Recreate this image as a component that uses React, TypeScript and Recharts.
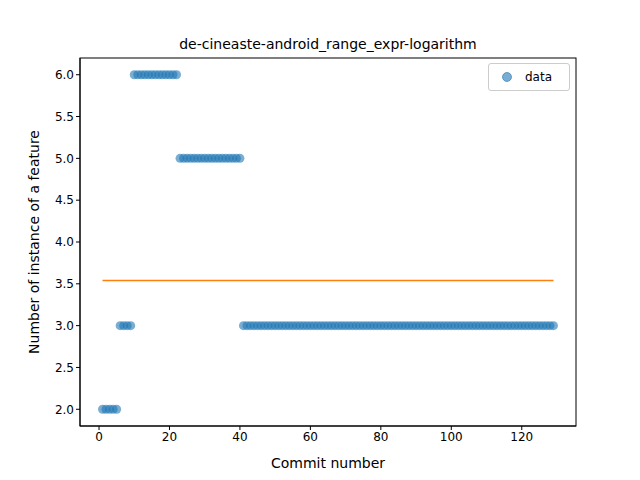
import React from 'react';
import { ComposedChart, Scatter, XAxis, YAxis, ReferenceLine, Legend } from 'recharts';

const values = [
  2, 2, 2, 2, 2,
  3, 3, 3, 3,
  6, 6, 6, 6, 6, 6, 6, 6, 6, 6, 6, 6, 6,
  5, 5, 5, 5, 5, 5, 5, 5, 5, 5, 5, 5, 5, 5, 5, 5, 5, 5,
  3, 3, 3, 3, 3, 3, 3, 3, 3, 3, 3, 3, 3, 3, 3, 3, 3, 3, 3, 3,
  3, 3, 3, 3, 3, 3, 3, 3, 3, 3, 3, 3, 3, 3, 3, 3, 3, 3, 3, 3,
  3, 3, 3, 3, 3, 3, 3, 3, 3, 3, 3, 3, 3, 3, 3, 3, 3, 3, 3, 3,
  3, 3, 3, 3, 3, 3, 3, 3, 3, 3, 3, 3, 3, 3, 3, 3, 3, 3, 3, 3,
  3, 3, 3, 3, 3, 3, 3, 3, 3,
];
const commits = values.map((_, i) => i + 1);
const xTicks = [0, 20, 40, 60, 80, 100, 120];
const yTicks = [2.0, 2.5, 3.0, 3.5, 4.0, 4.5, 5.0, 5.5, 6.0];
const meanValue = 3.54;

const data = commits.map((c, i) => ({ x: c, y: values[i] }));
const font = 'DejaVu Sans, sans-serif';

const LegendBox = () => (
  <div style={{ position: 'absolute', left: 488, top: 63, width: 80, height: 26, border: '1px solid #ccc', borderRadius: 3, background: 'white', fontFamily: font, fontSize: 12, display: 'flex', alignItems: 'center' }}>
    <svg width={30} height={20}><circle cx={18} cy={10} r={4.5} fill="#1f77b4" fillOpacity={0.6} stroke="#1f77b4" strokeOpacity={0.6} /></svg>
    <span style={{ marginLeft: 6 }}>data</span>
  </div>
);

export default function App() {
  return (
    <div style={{ position: 'absolute', left: 0, top: 0, width: 640, height: 480, background: 'white' }}>
      <ComposedChart width={640} height={480} margin={{ left: 20, right: 64, top: 58, bottom: 0 }}>
        <XAxis type="number" dataKey="x" domain={[-5.4, 135.4]} ticks={xTicks} allowDataOverflow
          tick={{ fill: '#000', fontSize: 12, fontFamily: font }} stroke="#000" tickSize={4} height={54} />
        <YAxis type="number" dataKey="y" domain={[1.8, 6.2]} ticks={yTicks} allowDataOverflow width={60}
          tickFormatter={(v: number) => v.toFixed(1)}
          tick={{ fill: '#000', fontSize: 12, fontFamily: font }} stroke="#000" tickSize={4} />
        <Scatter data={data} fill="#1f77b4" fillOpacity={0.6} isAnimationActive={false}
          shape={(p: any) => <circle cx={p.cx} cy={p.cy} r={4.5} fill="#1f77b4" fillOpacity={0.6} />} />
        <ReferenceLine segment={[{ x: 1, y: meanValue }, { x: 129, y: meanValue }]} stroke="#ff7f0e" strokeWidth={1.5} />
        <Legend content={() => null} />
        <text x={328} y={49} textAnchor="middle" fontSize={14} fontFamily={font} fill="#000">de-cineaste-android_range_expr-logarithm</text>
        <text x={328} y={468} textAnchor="middle" fontSize={14} fontFamily={font} fill="#000">Commit number</text>
        <text x={0} y={0} transform="translate(39,242) rotate(-90)" textAnchor="middle" fontSize={14} fontFamily={font} fill="#000">Number of instance of a feature</text>
        <rect x={80} y={58} width={496} height={368} fill="none" stroke="#000" />
      </ComposedChart>
      <LegendBox />
    </div>
  );
}
